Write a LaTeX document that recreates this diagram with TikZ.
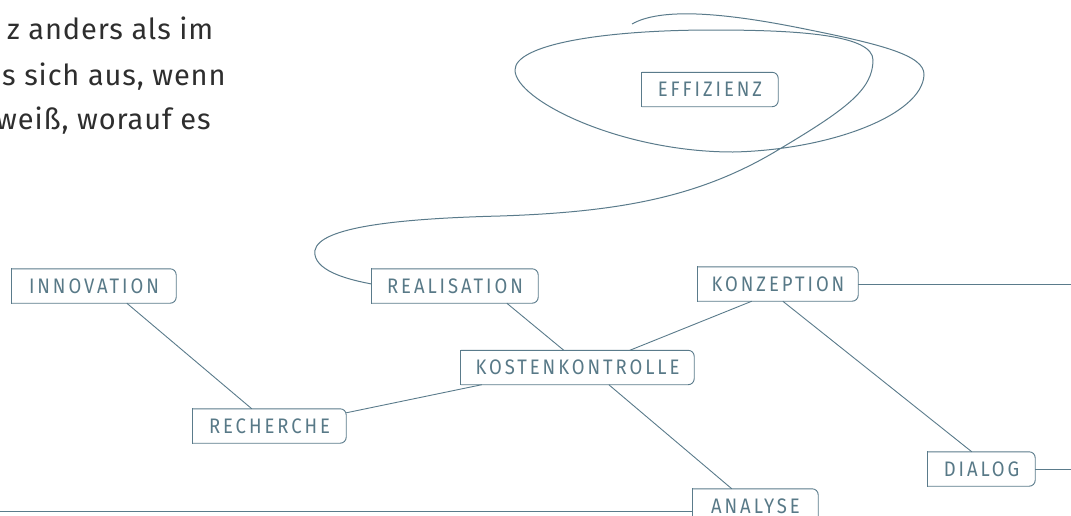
\documentclass[tikz,border=0pt]{standalone}
\usepackage{fontspec}
\setmainfont{Fira Sans}
\newfontfamily\labfont[LetterSpace=14,FakeStretch=0.88]{Fira Sans}
\newfontfamily\parafont[LetterSpace=3]{Fira Sans}
\definecolor{ink}{HTML}{5A7B8B}
\definecolor{txt}{HTML}{587987}
\definecolor{para}{HTML}{2E2E2E}
\begin{document}
\begin{tikzpicture}[x=1pt,y=-1pt,
  lab/.style={inner sep=0pt, minimum height=34pt, font=\labfont\fontsize{21}{22}\selectfont, text=txt},
  conn/.style={draw=ink, line width=0.9pt},
  scribble/.style={draw=ink, line width=1pt},
  paratext/.style={anchor=base west, inner sep=0pt, font=\parafont\fontsize{29}{30}\selectfont, text=para}]
\useasboundingbox (0,0) rectangle (1071,515);
\clip (0,0) rectangle (1071,515);

% paragraph fragment
\node[paratext] (p1) at (7,39.5) {z anders als im};
\node[paratext] (p2) at (2,85) {s sich aus, wenn};
\node[paratext] (p3) at (-4,129.5) {weiß, worauf es};

% nodes
\node[lab, minimum width=136pt] (eff) at (710,89.5) {EFFIZIENZ};
\node[lab, minimum width=164pt] (inn) at (94,286) {INNOVATION};
\node[lab, minimum width=166pt] (rea) at (455,286) {REALISATION};
\node[lab, minimum width=160pt] (kon) at (778,284) {KONZEPTION};
\node[lab, minimum width=233pt] (kos) at (577.5,367.5) {KOSTENKONTROLLE};
\node[lab, minimum width=153pt] (rec) at (269.5,426) {RECHERCHE};
\node[lab, minimum width=107pt] (dia) at (981.5,469) {DIALOG};
\node[lab, minimum width=125pt] (ana) at (755.5,506) {ANALYSE};

% box outlines: square left corners, rounded right corners
\foreach \n in {eff,inn,rea,kon,kos,rec,dia,ana}{
  \draw[conn, rounded corners=6pt] (\n.north west) -- (\n.north east) -- (\n.south east) -- (\n.south west);
  \draw[conn, line cap=rect] (\n.south west) -- (\n.north west);
}

% free ends
\coordinate (rightedge) at (1071,0);
\coordinate (leftend) at (0,511);
\coordinate (tail) at (632,24);

% connectors
\draw[conn] ([xshift=115pt]inn.south west) -- ([xshift=59pt]rec.north west);
\draw[conn] ([yshift=-4pt]rec.north east) -- ([xshift=21pt]kos.south west);
\draw[conn] ([xshift=135pt]rea.south west) -- ([xshift=103pt]kos.north west);
\draw[conn] ([xshift=54pt]kon.south west) -- ([xshift=169pt]kos.north west);
\draw[conn] ([xshift=85pt]kon.south west) -- ([xshift=44pt]dia.north west);
\draw[conn] ([xshift=148pt]kos.south west) -- ([xshift=39pt]ana.north west);
\draw[conn] (kon.east) -- (kon.east -| rightedge);
\draw[conn] (dia.east) -- (dia.east -| rightedge);
\coordinate (anaL) at ([yshift=-5pt]ana.west);
\draw[conn] (anaL) -- (leftend);

% scribble loop around EFFIZIENZ ending at REALISATION
\draw[scribble] (tail)
  .. controls (660,8) and (720,12) .. (800,28)
  .. controls (880,44) and (925,55) .. (924,75)
  .. controls (922,115) and (830,150) .. (733,152)
  .. controls (620,152) and (515,100) .. (515,70)
  .. controls (515,45) and (600,30) .. (713,30)
  .. controls (800,30) and (873,35) .. (873,60)
  .. controls (873,90) and (845,110) .. (778,150)
  .. controls (700,197) and (620,212) .. (500,216)
  .. controls (380,219) and (310,230) .. (315,255)
  .. controls (318,272) and (350,280) .. ([yshift=2pt]rea.west);
\end{tikzpicture}
\end{document}
